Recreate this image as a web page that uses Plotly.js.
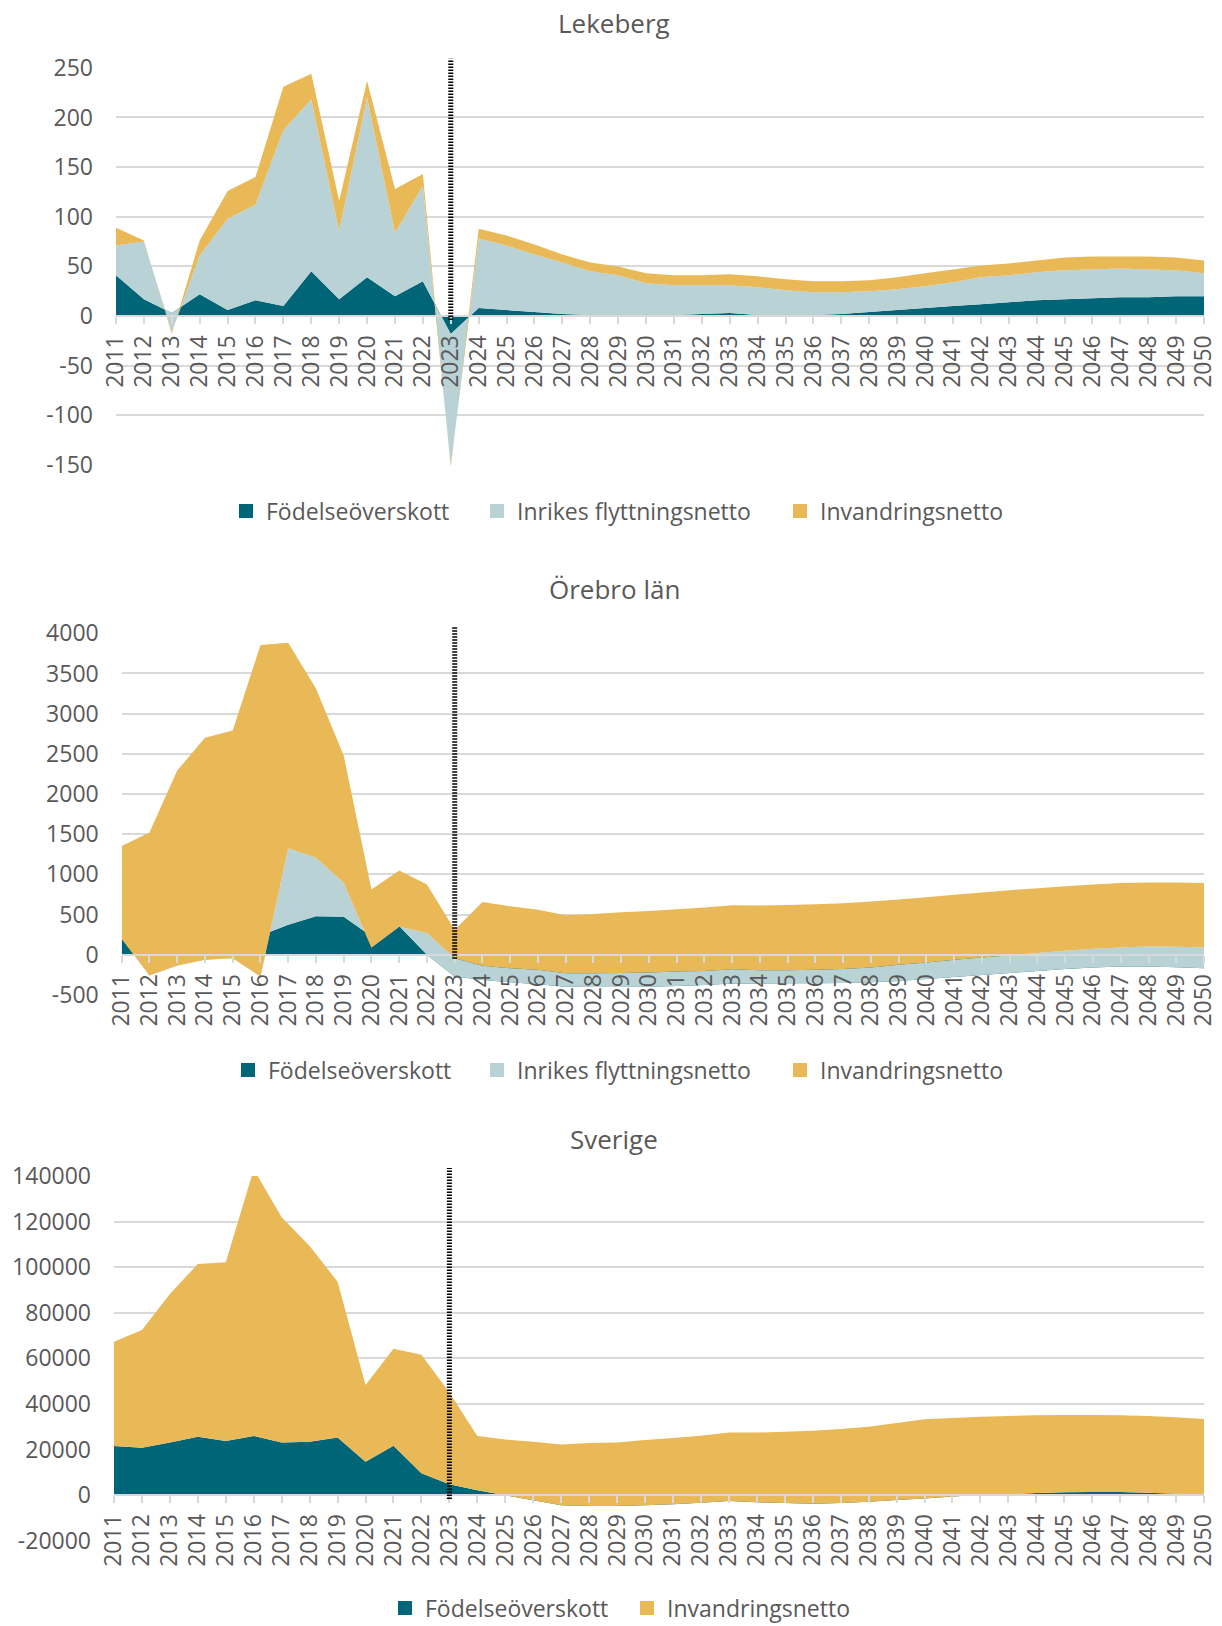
<!DOCTYPE html>
<html>
<head>
<meta charset="utf-8">
<script src="https://cdn.plot.ly/plotly-3.0.1.min.js"></script>
<style>html,body{margin:0;padding:0;background:#fff;}</style>
</head>
<body>
<div id="chart" style="width:1222px;height:1626px;"></div>
<script>
// ---------- DATA ----------
const years = [2011,2012,2013,2014,2015,2016,2017,2018,2019,2020,2021,2022,2023,2024,2025,2026,2027,2028,2029,2030,
               2031,2032,2033,2034,2035,2036,2037,2038,2039,2040,2041,2042,2043,2044,2045,2046,2047,2048,2049,2050];
const yearLabels = ['2011','2012','2013','2014','2015','2016','2017','2018','2019','2020',
                    '2021','2022','2023','2024','2025','2026','2027','2028','2029','2030',
                    '2031','2032','2033','2034','2035','2036','2037','2038','2039','2040',
                    '2041','2042','2043','2044','2045','2046','2047','2048','2049','2050'];
const markerYear = 2023;

const nameFodelse = 'Födelseöverskott';
const nameInrikes = 'Inrikes flyttningsnetto';
const nameInvandring = 'Invandringsnetto';

// Lekeberg
const lekebergFodelse = [41,17,3,22,6,16,10,45,17,39,20,35,-18,8,6,4,2,1,1,1,
                         1,2,3,1,1,1,2,4,6,8,10,12,14,16,17,18,19,19,20,20];
const lekebergInrikes = [30,58,-19,39,92,96,177,173,69,181,64,96,-133,70,65,58,52,44,40,32,
                         30,29,28,28,25,23,22,21,21,22,24,27,27,28,29,29,29,28,26,23];
const lekebergInvandring = [18,1,-2,15,28,28,44,26,30,17,44,12,-2,10,10,10,8,9,9,10,
                            10,10,11,11,11,11,11,11,12,13,13,12,12,12,13,13,12,13,13,13];

// Örebro län
const orebroFodelse = [200,120,150,180,100,240,375,480,475,230,360,0,-270,-312,-342,-367,-396,-400,-400,-396,
                       -387,-375,-358,-358,-354,-354,-350,-342,-325,-300,-275,-250,-225,-200,-175,-158,-146,-146,-154,-167];
const orebroInrikes = [0,-378,-283,-242,-142,-510,950,728,421,-138,-10,270,228,175,175,180,167,171,175,175,
                       179,175,179,166,162,167,175,184,200,204,213,217,221,221,225,233,238,250,254,259];
const orebroInvandring = [1154,1779,2425,2762,2834,4124,2558,2105,1583,720,700,605,354,795,771,749,721,737,754,767,
                          775,788,796,805,813,816,817,820,813,813,808,808,808,808,804,800,800,796,800,800];

// Sverige
const sverigeFodelse = [21500,20800,23000,25600,23700,25900,23000,23400,25200,14600,21600,9600,4700,2100,-100,-2300,-4500,-4800,-4800,-4500,
                        -4000,-3400,-2600,-3200,-3500,-3800,-3500,-2900,-2200,-1500,-700,0,300,900,1200,1300,1300,1000,600,0];
const sverigeInvandring = [45800,51600,65200,75800,78400,117000,98900,85900,68400,33700,42600,52000,40300,23800,24500,25700,26700,27600,27900,28600,
                           29000,29400,30000,30600,31300,32000,32500,32900,33800,34700,34500,34300,34400,34100,33900,33800,33700,33700,33500,33400];

// Tick labels
const lekebergTicks = [-150,-100,-50,0,50,100,150,200,250];
const lekebergTickText = ['-150','-100','-50','0','50','100','150','200','250'];
const orebroTicks = [-500,0,500,1000,1500,2000,2500,3000,3500,4000];
const orebroTickText = ['-500','0','500','1000','1500','2000','2500','3000','3500','4000'];
const sverigeTicks = [-20000,0,20000,40000,60000,80000,100000,120000,140000];
const sverigeTickText = ['-20000','0','20000','40000','60000','80000','100000','120000','140000'];

// ---------- STYLE / LAYOUT ----------
const W = 1222, H = 1626;
const FONT = '"Open Sans", "Noto Sans", sans-serif';
const TXT = '#595959';
const GRID = '#d9d9d9';
const colors = {};
colors[nameFodelse] = '#006677';
colors[nameInrikes] = '#b8d2d6';
colors[nameInvandring] = '#e9b958';

const panels = [
  {title:'Lekeberg', series:[[nameFodelse,lekebergFodelse],[nameInrikes,lekebergInrikes],[nameInvandring,lekebergInvandring]],
   range:[-150,250], tickvals:lekebergTicks, ticktext:lekebergTickText,
   xpx:[116,1204], ypx:[67.8,465], titleY:23, legendY:511, legendLeft:[242,493,796], lineTop:9},
  {title:'Örebro län', series:[[nameFodelse,orebroFodelse],[nameInrikes,orebroInrikes],[nameInvandring,orebroInvandring]],
   range:[-500,4000], tickvals:orebroTicks, ticktext:orebroTickText,
   xpx:[121.7,1204], ypx:[633.3,995], titleY:589, legendY:1070, legendLeft:[244,493,796], lineTop:7},
  {title:'Sverige', series:[[nameFodelse,sverigeFodelse],[nameInvandring,sverigeInvandring]],
   range:[-20000,140000], tickvals:sverigeTicks, ticktext:sverigeTickText,
   xpx:[114,1204], ypx:[1176,1540.6], titleY:1139, legendY:1608, legendLeft:[401,643], lineTop:8}
];

const data = [];
const layout = {
  width:W, height:H, autosize:false,
  margin:{l:0,r:0,t:0,b:0,autoexpand:false},
  paper_bgcolor:'#fff', plot_bgcolor:'rgba(0,0,0,0)',
  font:{family:FONT, color:TXT, size:23},
  showlegend:true,
  annotations:[], shapes:[]
};

let legendCount = 0;
panels.forEach((p, i) => {
  const n = i === 0 ? '' : String(i + 1);
  const xa = 'x' + n, ya = 'y' + n;
  const xdom = [p.xpx[0] / W, p.xpx[1] / W];
  const ydom = [1 - p.ypx[1] / H, 1 - p.ypx[0] / H];
  const zeroPaper = ydom[0] + (0 - p.range[0]) / (p.range[1] - p.range[0]) * (ydom[1] - ydom[0]);

  p.series.forEach(([name, vals]) => {
    data.push({
      type:'scatter', x:years, y:vals, xaxis:xa, yaxis:ya,
      stackgroup:'s' + i, mode:'none', fillcolor:colors[name],
      line:{width:0}, name:name, showlegend:false, hoverinfo:'skip'
    });
  });
  p.series.forEach(([name], k) => {
    legendCount += 1;
    const lg = legendCount === 1 ? 'legend' : 'legend' + legendCount;
    data.push({
      type:'scatter', x:[null], y:[null], xaxis:xa, yaxis:ya, mode:'markers',
      marker:{symbol:'square', size:14, color:colors[name]},
      name:name, legend:lg, showlegend:true, hoverinfo:'skip'
    });
    layout[lg] = {
      orientation:'h', x:(p.legendLeft[k] - 16) / W, xanchor:'left',
      y:1 - p.legendY / H, yanchor:'middle',
      font:{size:23, color:TXT, family:FONT}, bgcolor:'rgba(0,0,0,0)', itemwidth:30
    };
  });

  layout['xaxis' + n] = {
    domain:xdom, range:[years[0], years[years.length - 1]],
    tickmode:'array', tickvals:years, ticktext:yearLabels, tickangle:-90,
    showgrid:false, zeroline:false, showline:true, linecolor:GRID, linewidth:2,
    ticks:'outside', ticklen:7, tickwidth:2, tickcolor:GRID,
    tickfont:{size:23, color:TXT, family:FONT},
    anchor:'free', position:zeroPaper, ticklabelstandoff:2, fixedrange:true
  };
  layout['yaxis' + n] = {
    domain:ydom, range:p.range, tickmode:'array', tickvals:p.tickvals, ticktext:p.ticktext,
    showgrid:true, gridcolor:GRID, gridwidth:2, zeroline:false, showline:false, ticks:'',
    tickfont:{size:23, color:TXT, family:FONT}, anchor:xa, ticklabelstandoff:22, fixedrange:true
  };
  layout.annotations.push({
    text:p.title, xref:'paper', yref:'paper', x:614 / W, y:1 - p.titleY / H,
    xanchor:'center', yanchor:'middle', showarrow:false,
    font:{size:26, color:TXT, family:FONT}
  });
  layout.shapes.push({
    type:'line', xref:xa, yref:'paper', x0:markerYear, x1:markerYear,
    y0:zeroPaper - 4 / H, y1:ydom[1] + p.lineTop / H,
    line:{color:'#000000', width:5, dash:'1.5px,1.5px'}, layer:'above'
  });
});

Plotly.newPlot('chart', data, layout, {staticPlot:true, displayModeBar:false});
</script>
</body>
</html>
